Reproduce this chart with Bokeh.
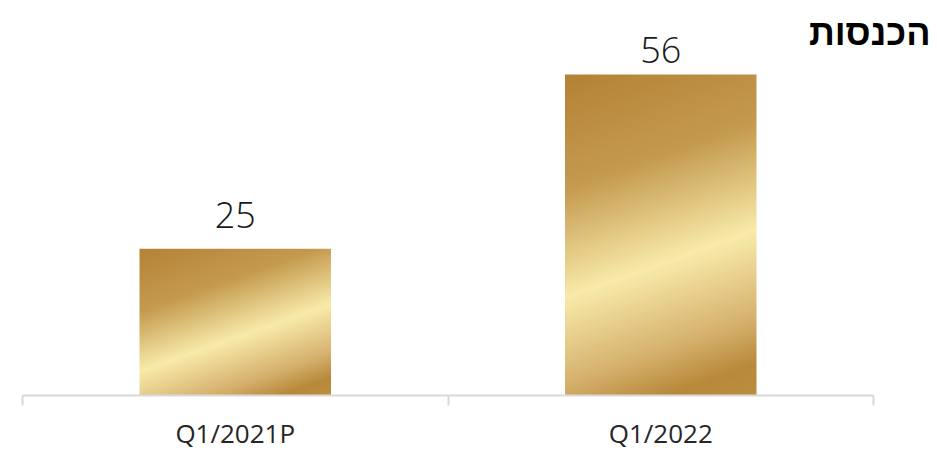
import numpy as np
from bokeh.plotting import figure
from bokeh.models import Range1d, FixedTicker, Label
from bokeh.core.properties import value
from bokeh.embed import file_html
from bokeh.resources import INLINE

# ---- data ----
categories = ["Q1/2021P", "Q1/2022"]
revenue = [25.6, 56.0]
value_labels = ["25", "56"]
title_text = "הכנסות"

# ---- layout (pixels inside the figure) ----
W, H = 937, 451
X0_PX = 22          # where the first category starts
Y0_PX = 395         # where the baseline (0) sits, from the top
PX_PER_X = 425.5    # pixels per category
PX_PER_Y = 5.732    # pixels per unit
BAR_WIDTH = 0.45
LABEL_CEIL = 54.4

x_start = -X0_PX / PX_PER_X
x_end = (W - X0_PX) / PX_PER_X
y_start = -(H - Y0_PX) / PX_PER_Y
y_end = Y0_PX / PX_PER_Y

p = figure(width=W, height=H, output_backend="svg", toolbar_location=None,
           x_range=Range1d(x_start, x_end), y_range=Range1d(y_start, y_end),
           min_border=0, min_border_left=0, min_border_right=0,
           min_border_top=0, min_border_bottom=0)
p.outline_line_color = None
p.xgrid.visible = False
p.ygrid.visible = False
p.yaxis.visible = False
p.background_fill_color = "white"
p.border_fill_color = "white"

# gold gradient stops
stops_t = [0.0, 0.3, 0.575, 0.8, 0.92, 1.0]
stops_c = np.array([(180, 130, 54), (197, 155, 80), (249, 235, 170),
                    (214, 177, 110), (184, 137, 58), (188, 142, 64)], dtype=float)

xs = [i + 0.5 for i in range(len(categories))]
images = []
for v in revenue:
    w = int(round(BAR_WIDTH * PX_PER_X))
    h = max(int(round(v * PX_PER_Y)), 1)
    gx = np.arange(w) + 0.5
    gy = np.arange(h) + 0.5
    proj = 0.35 * gx[None, :] + gy[:, None]
    t = proj / (0.35 * w + h)
    arr = np.zeros((h, w, 4), dtype=np.uint8)
    for c in range(3):
        arr[:, :, c] = np.interp(t, stops_t, stops_c[:, c]).astype(np.uint8)
    arr[:, :, 3] = 255
    arr = np.ascontiguousarray(np.flipud(arr))
    images.append(arr.view(np.uint32).reshape(h, w))

p.image_rgba(image=images, x=[x - BAR_WIDTH / 2 for x in xs], y=[0] * len(xs),
             dw=[BAR_WIDTH] * len(xs), dh=revenue)

label_y = [min(v, LABEL_CEIL) for v in revenue]
p.text(x=xs, y=label_y, text=value_labels, text_align="center",
       text_baseline="alphabetic", y_offset=-34,
       text_font=value("'Open Sans Light', 'Roboto Light', 'Lato Light', 'Open Sans'"),
       text_font_size="36px", text_color="#1a1a1a")

# axis
ax = p.xaxis[0]
ax.fixed_location = 0
ax.bounds = (0, len(categories))
ax.axis_label = None
ax.ticker = FixedTicker(ticks=xs, minor_ticks=list(range(len(categories) + 1)))
ax.major_label_overrides = {x: c for x, c in zip(xs, categories)}
ax.axis_line_color = "#D9D9D9"
ax.axis_line_width = 2
ax.major_tick_line_color = None
ax.major_tick_out = 0
ax.major_tick_in = 0
ax.minor_tick_line_color = "#D9D9D9"
ax.minor_tick_line_width = 2
ax.minor_tick_out = 10
ax.minor_tick_in = 0
ax.major_label_standoff = 9
ax.major_label_text_font = "Open Sans"
ax.major_label_text_font_size = "26px"
ax.major_label_text_color = "#262626"

title = Label(x=x_end - 7 / PX_PER_X, y=(Y0_PX - 32) / PX_PER_Y,
              x_units="data", y_units="data", text=title_text,
              text_align="right", text_baseline="alphabetic",
              text_font="Liberation Sans", text_font_style="bold",
              text_font_size="36px", text_color="#000000")
p.add_layout(title)

open("out.html", "w").write(file_html(p, INLINE))
